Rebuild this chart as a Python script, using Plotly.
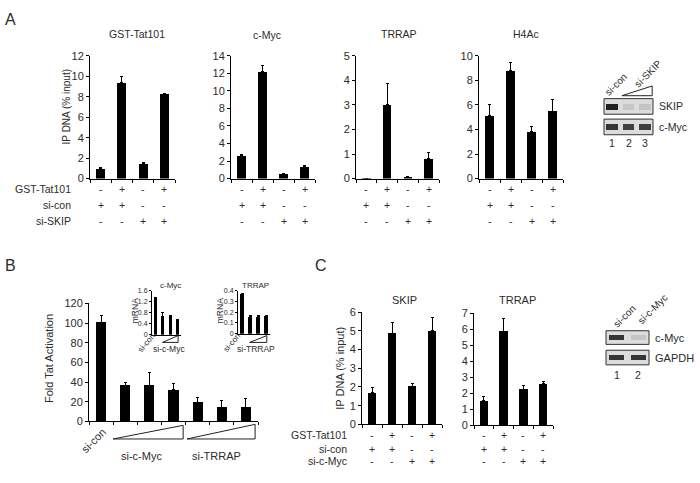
import plotly.graph_objects as go

W, H = 700, 483
FONT = "Liberation Sans, Arial, sans-serif"
TXT = "#2b2b2b"

# ---------------- Data ----------------
# Panel A: ChIP, IP DNA (% input)
a_gst_row = ['-', '+', '-', '+']
a_sicon_row = ['+', '+', '-', '-']
a_siskip_row = ['-', '-', '+', '+']
a_gst_vals = [1.0, 9.4, 1.5, 8.3]
a_gst_err = [0.05, 0.6, 0.1, 0.05]
a_cmyc_vals = [2.6, 12.2, 0.5, 1.4]
a_cmyc_err = [0.2, 0.7, 0.05, 0.15]
a_trrap_vals = [0.02, 3.0, 0.07, 0.8]
a_trrap_err = [0.0, 0.85, 0.02, 0.25]
a_h4ac_vals = [5.1, 8.8, 3.8, 5.5]
a_h4ac_err = [0.9, 0.65, 0.4, 0.95]

# Panel A western blot (relative band intensity per lane)
a_blot_lanes = ['1', '2', '3']
a_blot_skip = [0.95, 0.08, 0.1]
a_blot_cmyc = [0.85, 0.8, 0.8]

# Panel B: Fold Tat activation
b_vals = [101, 37, 37, 32, 19, 14.5, 14]
b_err = [7, 3, 13, 7, 5.5, 6.5, 9]
b_cmyc_idx = [1, 2, 3]
b_trrap_idx = [4, 5, 6]
# Panel B insets: mRNA
b_cmyc_mrna = [1.34, 0.67, 0.66, 0.53]
b_cmyc_mrna_err = [0.02, 0.12, 0.02, 0.02]
b_trrap_mrna = [0.37, 0.16, 0.16, 0.165]
b_trrap_mrna_err = [0.005, 0.005, 0.005, 0.005]

# Panel C: ChIP
c_gst_row = ['-', '+', '-', '+']
c_sicon_row = ['+', '+', '-', '-']
c_simyc_row = ['-', '-', '+', '+']
c_skip_vals = [1.68, 4.88, 2.02, 5.0]
c_skip_err = [0.27, 0.55, 0.18, 0.7]
c_trrap_vals = [1.52, 5.88, 2.23, 2.58]
c_trrap_err = [0.27, 0.77, 0.27, 0.18]

# Panel C western blot
c_blot_lanes = ['1', '2']
c_blot_cmyc = [0.85, 0.1]
c_blot_gapdh = [0.85, 0.85]

# ---------------- Helpers ----------------
def px(x):
    return x / W


def py(y):
    return 1 - y / H


fig = go.Figure()
layout = {}
annotations = []
shapes = []


def sfx(i):
    return '' if i == 1 else str(i)


def font(size, color=TXT):
    return dict(family=FONT, size=size, color=color)


def text(x, y, t, size=10, xref='paper', xanchor='center', yanchor='middle', angle=0):
    annotations.append(dict(x=x if xref != 'paper' else px(x), xref=xref,
                            y=py(y), yref='paper', text=t, showarrow=False,
                            font=font(size), xanchor=xanchor, yanchor=yanchor,
                            textangle=angle, borderpad=0))


def bar_panel(i, xpix, ypix, vals, errs, yrange, dtick, tickfont=11, width=0.42,
              xticks=True, ticklen=3, tickformat=None):
    s = sfx(i)
    n = len(vals)
    fig.add_trace(go.Bar(
        x=list(range(n)), y=vals, width=width,
        marker=dict(color='black', line=dict(width=0)),
        error_y=dict(type='data', symmetric=False, array=errs, arrayminus=[0] * n,
                     color='black', thickness=1, width=1.5),
        xaxis='x' + s, yaxis='y' + s, showlegend=False, hoverinfo='skip'))
    layout['xaxis' + s] = dict(
        domain=[px(xpix[0]), px(xpix[1])], anchor='y' + s, range=[-0.5, n - 0.5],
        showline=True, linecolor='black', linewidth=1,
        ticks='outside' if xticks else '', tickvals=[k - 0.5 for k in range(n + 1)],
        ticklen=ticklen, tickcolor='black', tickwidth=1, showticklabels=False,
        showgrid=False, zeroline=False, fixedrange=True)
    ya = dict(
        domain=[py(ypix[1]), py(ypix[0])], anchor='x' + s, range=yrange, dtick=dtick,
        tick0=0, showline=True, linecolor='black', linewidth=1, ticks='outside',
        ticklen=ticklen, tickcolor='black', tickwidth=1, tickfont=font(tickfont),
        showgrid=False, zeroline=False, fixedrange=True)
    if tickformat:
        ya['tickformat'] = tickformat
    layout['yaxis' + s] = ya


def cond_rows(i, rows, ys, size=10.5):
    s = sfx(i)
    for row, y in zip(rows, ys):
        for k, sym in enumerate(row):
            text(k, y, sym, size=size, xref='x' + s)


def blot(i, xpix, ypix, intensities, label, label_size):
    s = sfx(i)
    n = len(intensities)
    colors = []
    for v in intensities:
        g = int(215 - 190 * v)
        colors.append(f'rgb({g},{g},{g})')
    fig.add_trace(go.Bar(
        x=list(range(1, n + 1)), y=[0.7] * n, base=[-0.35] * n, width=0.72,
        marker=dict(color=colors, line=dict(width=0)),
        xaxis='x' + s, yaxis='y' + s, showlegend=False, hoverinfo='skip'))
    layout['xaxis' + s] = dict(domain=[px(xpix[0]), px(xpix[1])], anchor='y' + s,
                               range=[0.5, n + 0.5], visible=False, fixedrange=True)
    layout['yaxis' + s] = dict(domain=[py(ypix[1]), py(ypix[0])], anchor='x' + s,
                               range=[-1, 1], visible=False, fixedrange=True)
    shapes.append(dict(type='rect', xref='x' + s + ' domain', yref='y' + s + ' domain',
                       x0=0, x1=1, y0=0, y1=1, fillcolor='#dcdcdc',
                       line=dict(color='#333', width=1), layer='below'))
    text(xpix[1] + 5, (ypix[0] + ypix[1]) / 2, label, size=label_size, xanchor='left')


def wedge(xref, x0, x1, ytop, ybot, lw=1):
    shapes.append(dict(type='path', xref=xref, yref='paper',
                       path=f'M {x0},{py(ybot)} L {x1},{py(ytop)} L {x1},{py(ybot)} Z',
                       line=dict(color='#222', width=lw), fillcolor='rgba(0,0,0,0)'))


# ---------------- Panel A ----------------
text(10, 14, 'A', size=16)
row_y_A = [188, 204, 220]
text(72, row_y_A[0], 'GST-Tat101', size=10.5, xanchor='right')
text(72, row_y_A[1], 'si-con', size=10.5, xanchor='right')
text(72, row_y_A[2], 'si-SKIP', size=10.5, xanchor='right')
text(66, 104, 'IP DNA (% input)', size=10, angle=-90)

bar_panel(1, (90, 175), (51, 177), a_gst_vals, a_gst_err, [0, 12], 2)
bar_panel(2, (231, 315), (51, 177), a_cmyc_vals, a_cmyc_err, [0, 14], 2)
bar_panel(3, (356, 439), (51, 177), a_trrap_vals, a_trrap_err, [0, 5], 1)
bar_panel(4, (479, 563), (51, 177), a_h4ac_vals, a_h4ac_err, [0, 10], 2)
text(137, 29, 'GST-Tat101', size=10.5)
text(267, 30, 'c-Myc', size=10.5)
text(399, 29, 'TRRAP', size=10.5)
text(526, 29, 'H4Ac', size=10.5)
for i in (1, 2, 3, 4):
    cond_rows(i, [a_gst_row, a_sicon_row, a_siskip_row], row_y_A)

# Panel A blot
blot(10, (604, 653), (95, 111), a_blot_skip, 'SKIP', 10.5)
blot(11, (604, 653), (116, 132), a_blot_cmyc, 'c-Myc', 10.5)
for k, lab in enumerate(a_blot_lanes):
    text(k + 1, 140, lab, size=10.5, xref='x11')
text(616, 81, 'si-con', size=10, angle=-45)
text(648, 69, 'si-SKIP', size=10, angle=-45)
wedge('x10', 1.6, 3.45, 82, 92)

# ---------------- Panel B ----------------
text(10, 266, 'B', size=16)
bar_panel(5, (89, 258), (305, 426), b_vals, b_err, [0, 120], 20)
text(49, 362, 'Fold Tat Activation', size=11, angle=-90)
text(93, 446, 'si-con', size=11, angle=-45)
wedge('x5', b_cmyc_idx[0] - 0.5, b_cmyc_idx[-1] + 0.4, 430, 444)
wedge('x5', b_trrap_idx[0] - 0.44, b_trrap_idx[-1] + 0.38, 429, 444)
text(141, 461, 'si-c-Myc', size=11)
text(216, 461, 'si-TRRAP', size=11)

# insets
bar_panel(6, (152, 181), (292, 337), b_cmyc_mrna, b_cmyc_mrna_err, [0, 1.6], 0.4,
          tickfont=7, width=0.42, xticks=False, ticklen=2, tickformat='.1f')
bar_panel(7, (238, 270), (292, 336), b_trrap_mrna, b_trrap_mrna_err, [0, 0.4], 0.1,
          tickfont=7, width=0.42, xticks=False, ticklen=2, tickformat='.1f')
layout['yaxis6']['tickvals'] = [0, 0.4, 0.8, 1.2, 1.6]
layout['yaxis6']['ticktext'] = ['0', '0.4', '0.8', '1.2', '1.6']
layout['yaxis7']['tickvals'] = [0, 0.1, 0.2, 0.3, 0.4]
layout['yaxis7']['ticktext'] = ['0', '0.1', '0.2', '0.3', '0.4']
text(170, 287, 'c-Myc', size=8)
text(255, 287, 'TRRAP', size=8)
text(135, 313, 'mRNA', size=8.5, angle=-90)
text(220, 313, 'mRNA', size=8.5, angle=-90)
text(146, 346, 'si-con', size=8, angle=-50)
text(232, 345, 'si-con', size=8, angle=-50)
wedge('x6', 0.95, 3.1, 338, 345)
wedge('x7', 0.95, 3.1, 338, 345)
text(169, 352, 'si-c-Myc', size=8.5)
text(256, 352, 'si-TRRAP', size=8.5)

# ---------------- Panel C ----------------
text(321, 266, 'C', size=16)
row_y_C = [440, 454, 467]
text(348, row_y_C[0], 'GST-Tat101', size=10.5, xanchor='right')
text(348, row_y_C[1], 'si-con', size=10.5, xanchor='right')
text(348, row_y_C[2], 'si-c-Myc', size=10.5, xanchor='right')
text(340, 372, 'IP DNA (% input)', size=11, angle=-90)
bar_panel(8, (362, 442), (314, 429), c_skip_vals, c_skip_err, [0, 6], 1)
bar_panel(9, (474, 553), (315, 430), c_trrap_vals, c_trrap_err, [0, 7], 1)
text(404, 302, 'SKIP', size=11)
text(517, 302, 'TRRAP', size=11)
cond_rows(8, [c_gst_row, c_sicon_row, c_simyc_row], row_y_C)
cond_rows(9, [c_gst_row, c_sicon_row, c_simyc_row], row_y_C)

# Panel C blot
blot(12, (606, 649), (333, 347), c_blot_cmyc, 'c-Myc', 11)
blot(13, (606, 649), (353, 368), c_blot_gapdh, 'GAPDH', 11)
for k, lab in enumerate(c_blot_lanes):
    text(k + 1, 378, lab, size=10.5, xref='x13')
text(624, 318, 'si-con', size=10, angle=-45)
text(652, 311, 'si-c-Myc', size=10, angle=-45)

fig.update_layout(
    width=W, height=H, margin=dict(l=0, r=0, t=0, b=0), autosize=False,
    paper_bgcolor='white', plot_bgcolor='white', showlegend=False,
    bargap=0, font=font(10), annotations=annotations, shapes=shapes, **layout)

fig.write_html('out.html', config={'displayModeBar': False},
               post_script="document.body.style.margin='0';document.body.style.overflow='hidden';")
